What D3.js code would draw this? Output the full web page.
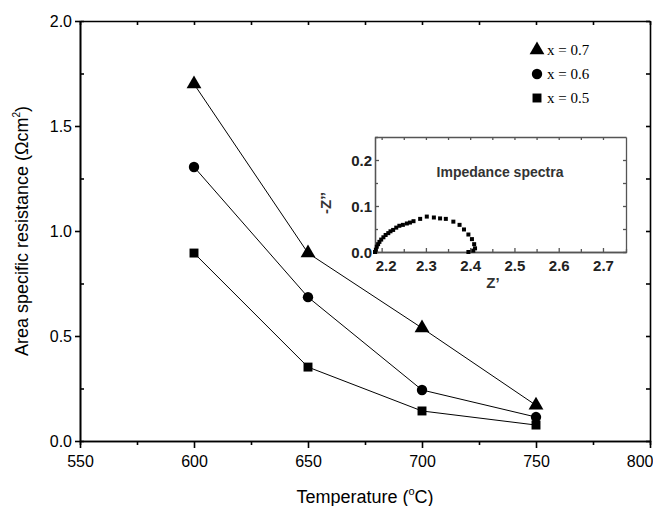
<!DOCTYPE html>
<html>
<head>
<meta charset="utf-8">
<script src="https://cdn.jsdelivr.net/npm/d3@7"></script>
<style>
  body { margin: 0; background: #fff; }
  svg { display: block; }
</style>
</head>
<body>
<div id="chart"></div>
<script>
// main chart data: area specific resistance vs temperature
var temps = [600, 650, 700, 750];
var asr_07 = [1.70, 0.895, 0.538, 0.17];
var asr_06 = [1.305, 0.685, 0.243, 0.114];
var asr_05 = [0.895, 0.352, 0.143, 0.076];
var series_names = ["x = 0.7", "x = 0.6", "x = 0.5"];
var series_symbols = [d3.symbolTriangle, d3.symbolCircle, d3.symbolSquare];
var series_sizes = [95, 85, 80];

var x_ticks = [550, 600, 650, 700, 750, 800];
var y_ticks = [0.0, 0.5, 1.0, 1.5, 2.0];

// inset: impedance spectra (Z' vs -Z'')
var imp_zre = [2.185, 2.187, 2.189, 2.192, 2.195, 2.199, 2.204, 2.209, 2.215, 2.220, 2.226,
               2.233, 2.240, 2.248, 2.257, 2.264, 2.272, 2.287, 2.302, 2.318, 2.332, 2.345,
               2.362, 2.376, 2.386, 2.396, 2.404, 2.409, 2.411, 2.407, 2.396];
var imp_zim = [0.000, 0.005, 0.0115, 0.017, 0.022, 0.027, 0.032, 0.037, 0.041, 0.045, 0.048,
               0.053, 0.057, 0.059, 0.062, 0.064, 0.067, 0.072, 0.077, 0.075, 0.073, 0.072,
               0.066, 0.059, 0.049, 0.038, 0.028, 0.017, 0.008, 0.003, 0.000];
var inset_x_ticks = [2.2, 2.3, 2.4, 2.5, 2.6, 2.7];
var inset_y_ticks = [0.0, 0.1, 0.2];

var width = 653, height = 506;

var svg = d3.select("#chart").append("svg")
    .attr("width", width)
    .attr("height", height)
    .style("font-family", "'Liberation Sans', Arial, sans-serif");

var x = d3.scaleLinear().domain([550, 800]).range([80, 650]);
var y = d3.scaleLinear().domain([0, 2.0]).range([441, 21]);

////////////////////////////////////////////////////////////////////////////////
// main axes

var minor_x = d3.range(575, 800, 50);
var minor_y = d3.range(0.25, 2.0, 0.5);

// bottom axis, ticks outside
var gx = svg.append("g").attr("transform", "translate(0,441)")
    .call(d3.axisBottom(x).tickValues(x_ticks).tickSize(7).tickSizeOuter(0).tickFormat(d3.format("d")));
gx.append("g").call(d3.axisBottom(x).tickValues(minor_x).tickSize(4).tickFormat(""));
// left axis
var gy = svg.append("g").attr("transform", "translate(80,0)")
    .call(d3.axisLeft(y).tickValues(y_ticks).tickSize(5).tickSizeOuter(0).tickFormat(d3.format(".1f")));
gy.append("g").call(d3.axisRight(y).tickValues(minor_y).tickSize(4).tickFormat(""));
// top and right frame with inward ticks
svg.append("g").attr("transform", "translate(0,21)")
    .call(d3.axisBottom(x).tickValues(x_ticks.concat(minor_x)).tickSize(4).tickSizeOuter(0).tickFormat(""));
svg.append("g").attr("transform", "translate(650,0)")
    .call(d3.axisLeft(y).tickValues(y_ticks.concat(minor_y)).tickSize(4).tickSizeOuter(0).tickFormat(""));

svg.selectAll(".domain, .tick line").attr("stroke", "#000").attr("stroke-width", 1.6);
gx.selectAll("text").attr("font-size", 16).attr("dy", "1.0em").attr("fill", "#000");
gy.selectAll("text").attr("font-size", 16).attr("dy", "0.35em").attr("fill", "#000");
svg.selectAll(".tick text").attr("font-family", "'Liberation Sans', Arial, sans-serif");
// keep the last label inside the page
gx.selectAll(".tick text").filter(function(d) { return d === 800; })
    .attr("text-anchor", "end").attr("x", 3);

// axis titles
var xt = svg.append("text")
    .attr("x", 365).attr("y", 503)
    .attr("text-anchor", "middle")
    .attr("font-size", 18);
xt.append("tspan").text("Temperature (");
xt.append("tspan").attr("font-size", 11).attr("dy", -8).text("o");
xt.append("tspan").attr("dy", 8).text("C)");

var yt = svg.append("text")
    .attr("transform", "translate(28,231) rotate(-90)")
    .attr("text-anchor", "middle")
    .attr("font-size", 18);
yt.append("tspan").text("Area specific resistance (\u03A9cm");
yt.append("tspan").attr("font-size", 10).attr("dy", -8).text("2");
yt.append("tspan").attr("dy", 8).text(")");

////////////////////////////////////////////////////////////////////////////////
// series

var all_series = [asr_07, asr_06, asr_05];
var line = d3.line().x(function(d) { return x(d[0]); }).y(function(d) { return y(d[1]); });

all_series.forEach(function(vals, si) {
    var pts = temps.map(function(t, i) { return [t, vals[i]]; });
    svg.append("path")
        .datum(pts)
        .attr("fill", "none")
        .attr("stroke", "#000")
        .attr("stroke-width", 1)
        .attr("d", line);
});
all_series.forEach(function(vals, si) {
    var sym = d3.symbol().type(series_symbols[si]).size(series_sizes[si]);
    svg.selectAll(".pt" + si)
        .data(temps.map(function(t, i) { return [t, vals[i]]; }))
        .enter().append("path")
        .attr("class", "pt" + si)
        .attr("transform", function(d) { return "translate(" + x(d[0]) + "," + y(d[1]) + ")"; })
        .attr("d", sym)
        .attr("fill", "#000");
});

// legend
var legend = svg.append("g");
series_names.forEach(function(name, i) {
    var ly = 50 + i * 24;
    legend.append("path")
        .attr("transform", "translate(537," + ly + ")")
        .attr("d", d3.symbol().type(series_symbols[i]).size(series_sizes[i]))
        .attr("fill", "#000");
    legend.append("text")
        .attr("x", 547).attr("y", ly)
        .attr("dy", "0.35em")
        .attr("font-family", "'Liberation Serif', 'Times New Roman', serif")
        .attr("font-size", 15)
        .text(name);
});

////////////////////////////////////////////////////////////////////////////////
// inset

var ix = d3.scaleLinear().domain([2.185, 2.752]).range([375, 626]);
var iy = d3.scaleLinear().domain([0, 0.25]).range([252, 137]);
var inset = svg.append("g").style("font-weight", "bold");

var ix_minor = [2.25, 2.35, 2.45, 2.55, 2.65];
var iy_minor = [0.05, 0.15];

var igx = inset.append("g").attr("transform", "translate(0,252)")
    .call(d3.axisTop(ix).tickValues(inset_x_ticks).tickSize(4).tickSizeOuter(0).tickFormat(d3.format(".1f")));
igx.append("g").call(d3.axisTop(ix).tickValues(ix_minor).tickSize(3).tickFormat(""));
igx.selectAll("text").attr("y", 8).attr("dy", "0.71em");
igx.selectAll(".tick text").filter(function(d) { return d === 2.2; }).attr("x", 4);
var igy = inset.append("g").attr("transform", "translate(375,0)")
    .call(d3.axisRight(iy).tickValues(inset_y_ticks).tickSize(4).tickSizeOuter(0).tickFormat(d3.format(".1f")));
igy.append("g").call(d3.axisRight(iy).tickValues(iy_minor).tickSize(3).tickFormat(""));
igy.selectAll("text").attr("x", -3).attr("text-anchor", "end").attr("dy", "0.35em");
inset.append("g").attr("transform", "translate(0,137)")
    .call(d3.axisBottom(ix).tickValues(inset_x_ticks.concat(ix_minor)).tickSize(3).tickSizeOuter(0).tickFormat(""));
inset.append("g").attr("transform", "translate(626,0)")
    .call(d3.axisLeft(iy).tickValues(inset_y_ticks.concat(iy_minor)).tickSize(3).tickSizeOuter(0).tickFormat(""));

inset.selectAll(".domain, .tick line").attr("stroke", "#555").attr("stroke-width", 1.3);
inset.selectAll(".tick text")
    .attr("font-size", 15)
    .attr("fill", "#222")
    .attr("font-family", "'Liberation Sans', Arial, sans-serif");

inset.append("text")
    .attr("x", 500).attr("y", 177)
    .attr("text-anchor", "middle")
    .attr("font-size", 14)
    .attr("fill", "#333")
    .text("Impedance spectra");
inset.append("text")
    .attr("x", 493).attr("y", 288)
    .attr("text-anchor", "middle")
    .attr("font-size", 15)
    .attr("fill", "#333")
    .text("Z\u2019");
inset.append("text")
    .attr("transform", "translate(331,203) rotate(-90)")
    .attr("text-anchor", "middle")
    .attr("font-size", 15)
    .attr("fill", "#333")
    .text("-Z\u2019\u2019");

inset.selectAll(".imp")
    .data(imp_zre.map(function(v, i) { return [v, imp_zim[i]]; }))
    .enter().append("rect")
    .attr("class", "imp")
    .attr("x", function(d) { return ix(d[0]) - 2; })
    .attr("y", function(d) { return iy(d[1]) - 2; })
    .attr("width", 4)
    .attr("height", 4)
    .attr("fill", "#000");
</script>
</body>
</html>
